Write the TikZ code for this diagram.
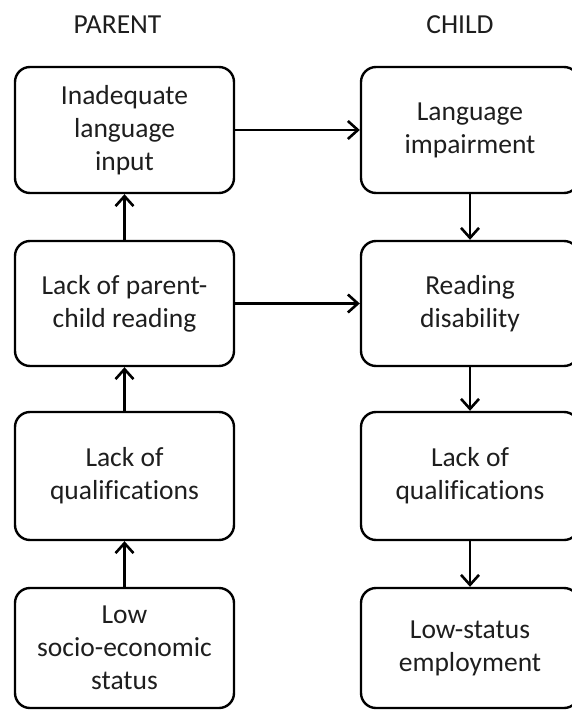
\documentclass[tikz,border=0pt]{standalone}
\usepackage{fontspec}
\setmainfont{Carlito}[Ligatures={NoCommon,NoRare,NoContextual}]
\usetikzlibrary{arrows.meta}
\definecolor{ink}{HTML}{1E1E1E}
\tikzset{
  box/.style={draw=black, line width=2.4pt, rounded corners=15pt, minimum width=219pt,
    inner sep=0pt, align=center, text=ink,
    font=\fontsize{27.5}{33}\selectfont},
  head/.style={text=ink, inner sep=0pt, font=\fontsize{27.5}{33}\selectfont},
  arr/.style={line width=2.6pt, -{Straight Barb[length=10pt,width=18pt,line width=2.6pt]}}
}
\begin{document}
\begin{tikzpicture}[x=1pt,y=-1pt]
\clip (0,0) rectangle (572,711);
\fill[white] (0,0) rectangle (572,711);
\node[head] (parent) at (117.5,25) {PARENT};
\node[head] (child) at (460,25) {CHILD};
\node[box, minimum height=126pt] (L1) at (124.5,130) {Inadequate\\language\\input};
\node[box, minimum height=125pt] (L2) at (124.5,303.5) {Lack of parent-\\child reading};
\node[box, minimum height=128pt] (L3) at (124.5,476) {Lack of\\qualifications};
\node[box, minimum height=120pt] (L4) at (124.5,648) {Low\\socio-economic\\status};
\node[box, minimum width=218pt, minimum height=126pt] (R1) at (470,130) {Language\\impairment};
\node[box, minimum width=218pt, minimum height=125pt] (R2) at (470,303.5) {Reading\\disability};
\node[box, minimum width=218pt, minimum height=128pt] (R3) at (470,476) {Lack of\\qualifications};
\node[box, minimum width=218pt, minimum height=120pt] (R4) at (470,648) {Low-status\\employment};
\draw[arr] (L2.north) -- (L1.south);
\draw[arr] (L3.north) -- (L2.south);
\draw[arr] (L4.north) -- (L3.south);
\draw[arr] (R1.south) -- (R2.north);
\draw[arr] (R2.south) -- (R3.north);
\draw[arr] (R3.south) -- (R4.north);
\draw[arr] (L1.east) -- (R1.west);
\draw[arr] (L2.east) -- (R2.west);
\end{tikzpicture}
\end{document}
